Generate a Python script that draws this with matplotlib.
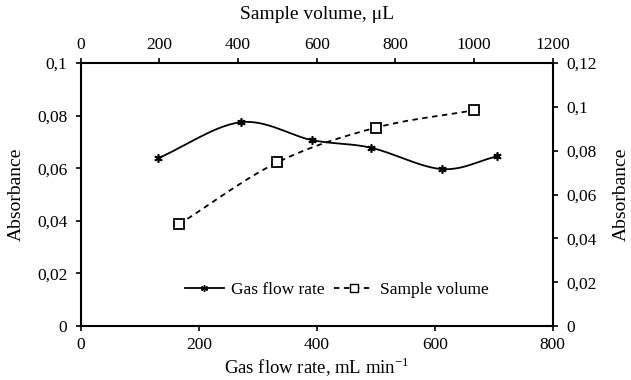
import numpy as np
import matplotlib.pyplot as plt
from matplotlib.ticker import FuncFormatter, MultipleLocator
from matplotlib.lines import Line2D

plt.rcParams['font.family'] = ['Liberation Serif', 'DejaVu Serif']

# gas flow rate series (bottom / left axes)
gas_flow = [131, 271, 392, 492, 612, 705]
abs_gas = [0.0638, 0.0775, 0.0707, 0.0678, 0.0597, 0.0645]

# sample volume series (top / right axes)
sample_vol = [250, 500, 750, 1000]
abs_vol = [0.0465, 0.0747, 0.0905, 0.0985]


def smooth(x, y, n=30):
    # Catmull-Rom through the points, like Excel's smoothed line
    x = np.asarray(x, float)
    y = np.asarray(y, float)
    px = np.concatenate([[2 * x[0] - x[1]], x, [2 * x[-1] - x[-2]]])
    py = np.concatenate([[2 * y[0] - y[1]], y, [2 * y[-1] - y[-2]]])
    xs, ys = [], []
    t = np.linspace(0, 1, n)
    for i in range(1, len(px) - 2):
        for p, out in ((px, xs), (py, ys)):
            p0, p1, p2, p3 = p[i - 1], p[i], p[i + 1], p[i + 2]
            out.extend(0.5 * (2 * p1 + (-p0 + p2) * t
                              + (2 * p0 - 5 * p1 + 4 * p2 - p3) * t ** 2
                              + (-p0 + 3 * p1 - 3 * p2 + p3) * t ** 3))
    return xs, ys


def comma(v, pos):
    s = ('%.2f' % v).rstrip('0').rstrip('.')
    return s.replace('.', ',')


fig = plt.figure(figsize=(6.31, 3.8), dpi=100)
rect = [0.128, 0.142, 0.748, 0.692]
ax = fig.add_axes(rect)
ax2 = fig.add_axes(rect, frameon=False)

sx, sy = smooth(gas_flow, abs_gas)
ax.plot(sx, sy, color='black', lw=1.3)
ax.plot(gas_flow, abs_gas, ls='none', marker=(6, 2, 0), ms=6, mec='black', mew=1.2)
ax.set_xlim(0, 800)
ax.set_ylim(0, 0.1)
ax.xaxis.set_major_locator(MultipleLocator(200))
ax.yaxis.set_major_locator(MultipleLocator(0.02))
ax.yaxis.set_major_formatter(FuncFormatter(comma))
ax.set_xlabel('Gas flow rate, mL min$^{\\mathregular{-1}}$', fontsize=13.5, va='center')
ax.xaxis.set_label_coords(0.5, -0.158)
ax.set_ylabel('Absorbance', fontsize=14, va='center')
ax.yaxis.set_label_coords(-0.136, 0.5)

vx, vy = smooth(sample_vol, abs_vol)
ax2.plot(vx, vy, color='black', lw=1.3, ls=(0, (3, 2.5)))
ax2.plot(sample_vol, abs_vol, ls='none', marker='s', ms=6.5, mfc='white', mec='black', mew=1.3)
ax2.set_xlim(0, 1200)
ax2.set_ylim(0, 0.12)
ax2.xaxis.set_major_locator(MultipleLocator(200))
ax2.yaxis.set_major_locator(MultipleLocator(0.02))
ax2.yaxis.set_major_formatter(FuncFormatter(comma))
ax2.xaxis.tick_top()
ax2.xaxis.set_label_position('top')
ax2.yaxis.tick_right()
ax2.yaxis.set_label_position('right')
ax2.set_xlabel('Sample volume, μL', fontsize=14, va='center')
ax2.xaxis.set_label_coords(0.5, 1.183)
ax2.set_ylabel('Absorbance', fontsize=14, va='center')
ax2.yaxis.set_label_coords(1.146, 0.5)

for a in (ax, ax2):
    a.tick_params(direction='out', length=3.6, width=1.2, labelsize=12.5, pad=6)
ax.tick_params(axis='x', pad=4)
ax2.tick_params(axis='x', pad=4)
for s in ax.spines.values():
    s.set_linewidth(1.5)

handles = [
    Line2D([], [], color='black', lw=1.3, marker=(6, 2, 0), ms=5, mew=1),
    Line2D([], [], color='black', lw=1.3, ls=(0, (3, 2.5)), marker='s', ms=6,
           mfc='white', mec='black'),
]
fig.legend(handles, ['Gas flow rate', 'Sample volume'], loc='center',
           bbox_to_anchor=(337 / 631, 1 - 290 / 380), ncol=2, frameon=False,
           fontsize=12.5, handlelength=2.25, columnspacing=0.57, handletextpad=0.4)

fig.savefig('out.png', dpi=100)
